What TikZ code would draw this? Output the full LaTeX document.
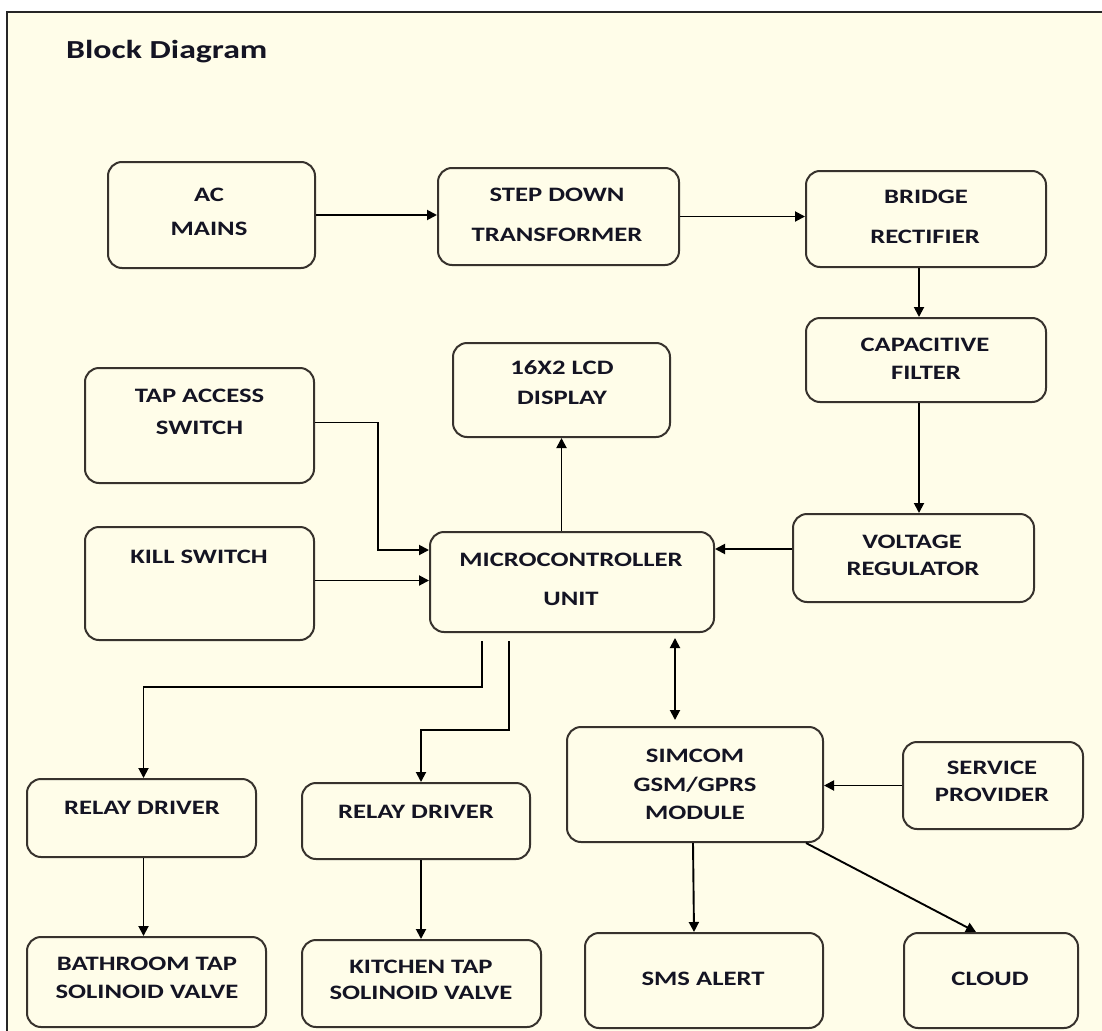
\documentclass[tikz,border=0pt]{standalone}
\usepackage{fontspec}
\setmainfont{Carlito}[FakeStretch=1.3]
\usetikzlibrary{arrows.meta}
\definecolor{bg}{RGB}{255,253,233}
\definecolor{edge}{RGB}{55,50,45}
\definecolor{ink}{RGB}{20,20,35}
\begin{document}
\begin{tikzpicture}[x=1pt,y=-1pt,
  blk/.style={draw=edge, line width=2pt, rounded corners=14pt, fill=bg, inner sep=0pt},
  txt/.style={font=\fontsize{20.5}{24}\selectfont\bfseries, text=ink, inner sep=0pt, anchor=base},
  arr/.style={draw=black, line width=1.9pt, -{Triangle[length=10pt,width=10pt]}},
  arrtwo/.style={draw=black, line width=1.9pt, {Triangle[length=10pt,width=10pt]}-{Triangle[length=10pt,width=10pt]}}]
\useasboundingbox (0,0) rectangle (1102,1030);
\clip (0,0) rectangle (1102,1030);
\fill[white] (0,0) rectangle (1102,1030);
\draw[fill=bg, line width=2pt, draw=black!85] (7,12) rectangle (1120,1050);

\node[font=\fontsize{26}{30}\selectfont\bfseries, text=ink, inner sep=0pt, anchor=base west] (title) at (66,58.5) {Block Diagram};

% blocks
\node[blk,minimum width=207pt,minimum height=106pt] (ac) at (211.5,215) {};
\node[blk,minimum width=241pt,minimum height=97pt] (sd) at (558.5,216.5) {};
\node[blk,minimum width=240pt,minimum height=96pt] (br) at (926,219) {};
\node[blk,minimum width=240pt,minimum height=84pt] (cf) at (926,360) {};
\node[blk,minimum width=217pt,minimum height=94pt] (lcd) at (561.5,390) {};
\node[blk,minimum width=229pt,minimum height=115pt] (tap) at (199.5,425.5) {};
\node[blk,minimum width=229pt,minimum height=113pt] (kill) at (199.5,583.5) {};
\node[blk,minimum width=284pt,minimum height=100pt] (mcu) at (572,582) {};
\node[blk,minimum width=241pt,minimum height=88pt] (vr) at (913.5,558) {};
\node[blk,minimum width=229pt,minimum height=78pt] (rda) at (141.5,818) {};
\node[blk,minimum width=228pt,minimum height=76pt] (rdb) at (416,821) {};
\node[blk,minimum width=256pt,minimum height=115pt] (sim) at (695,784.5) {};
\node[blk,minimum width=180pt,minimum height=87pt] (sp) at (993,785.5) {};
\node[blk,minimum width=239pt,minimum height=90pt] (bath) at (146.5,982) {};
\node[blk,minimum width=239pt,minimum height=87pt] (kit) at (421.5,983.5) {};
\node[blk,minimum width=238pt,minimum height=95pt] (sms) at (704,980.5) {};
\node[blk,minimum width=174pt,minimum height=95pt] (cloud) at (991,980.5) {};

% labels
\node[txt] (acA) at (209,201.5) {AC};
\node[txt] (acB) at (209,235.5) {MAINS};
\node[txt] (sdA) at (557,201.5) {STEP DOWN};
\node[txt] (sdB) at (557,241.5) {TRANSFORMER};
\node[txt] (brA) at (926,203.5) {BRIDGE};
\node[txt] (brB) at (925,243.5) {RECTIFIER};
\node[txt] (cfA) at (925,351.5) {CAPACITIVE};
\node[txt] (cfB) at (926,379.5) {FILTER};
\node[txt] (lcdA) at (562,374.5) {16X2 LCD};
\node[txt] (lcdB) at (562,404.5) {DISPLAY};
\node[txt] (tapA) at (199.5,402.5) {TAP ACCESS};
\node[txt] (tapB) at (199.5,434.5) {SWITCH};
\node[txt] (killA) at (199,563.5) {KILL SWITCH};
\node[txt] (mcuA) at (571,566.5) {MICROCONTROLLER};
\node[txt] (mcuB) at (571,605.5) {UNIT};
\node[txt] (vrA) at (912,548.5) {VOLTAGE};
\node[txt] (vrB) at (913,575.5) {REGULATOR};
\node[txt] (rdaA) at (142,814.5) {RELAY DRIVER};
\node[txt] (rdbA) at (416,818.5) {RELAY DRIVER};
\node[txt] (simA) at (695,762.5) {SIMCOM};
\node[txt] (simB) at (695,791.5) {GSM/GPRS};
\node[txt] (simC) at (695,819.5) {MODULE};
\node[txt] (spA) at (992,774.5) {SERVICE};
\node[txt] (spB) at (992,801.5) {PROVIDER};
\node[txt] (bathA) at (147,970.5) {BATHROOM TAP};
\node[txt] (bathB) at (147,998.5) {SOLINOID VALVE};
\node[txt] (kitA) at (421,973.5) {KITCHEN TAP};
\node[txt] (kitB) at (421,999.5) {SOLINOID VALVE};
\node[txt] (smsA) at (703,985.5) {SMS ALERT};
\node[txt] (cloudA) at (990,985.5) {CLOUD};

% connectors
\draw[arr] (ac.east) -- (ac.east -| sd.west);
\draw[arr] (sd.east) -- (sd.east -| br.west);
\draw[arr] ([xshift=-7pt]br.south) -- ([xshift=-7pt]cf.north);
\draw[arr] ([xshift=-7pt]cf.south) -- ([xshift=-7pt]cf.south |- vr.north);
\draw[arr] ([yshift=9pt]vr.west) -- ([yshift=9pt]vr.west -| mcu.east);
\draw[arr] (mcu.north -| lcd.south) -- (lcd.south);
\draw[arr] ([yshift=3pt]tap.east) -| ([xshift=-51pt,yshift=32pt]mcu.west) -- ([yshift=32pt]mcu.west);
\draw[arr] ([yshift=3pt]kill.east) -- ([yshift=3pt]kill.east -| mcu.west);
\draw[arr] ([xshift=-90pt,yshift=-8pt]mcu.south) |- ([xshift=2pt,yshift=91pt]rda.north) -- ([xshift=2pt]rda.north);
\draw[arr] ([xshift=-63pt,yshift=-8pt]mcu.south) |- ([xshift=5pt,yshift=52pt]rdb.north) -- ([xshift=5pt]rdb.north);
\draw[arrtwo, shorten <=5pt, shorten >=6pt] ([xshift=103pt]mcu.south) -- ([xshift=103pt]mcu.south |- sim.north);
\draw[arr] (sp.west) -- (sp.west -| sim.east);
\draw[arr] ([xshift=-2pt]sim.south) -- ([xshift=-10pt]sms.north);
\draw[arr] ([xshift=-18pt]sim.south east) -- ([xshift=-15pt]cloud.north);
\draw[arr] ([xshift=2pt]rda.south) -- ([xshift=2pt]rda.south |- bath.north);
\draw[arr] ([xshift=5pt]rdb.south) -- ([xshift=5pt]rdb.south |- kit.north);
\end{tikzpicture}
\end{document}
